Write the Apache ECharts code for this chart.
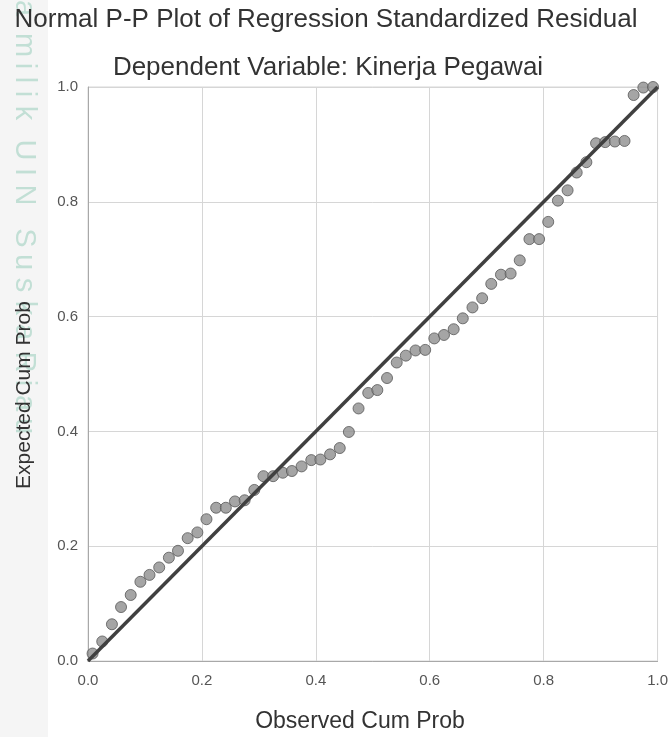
<!DOCTYPE html>
<html>
<head>
<meta charset="utf-8">
<script src="https://cdn.jsdelivr.net/npm/echarts@6/dist/echarts.min.js"></script>
<style>
html,body{margin:0;padding:0;background:#ffffff;}
#chart{width:671px;height:737px;}
</style>
</head>
<body>
<div id="chart"></div>
<script>
var titleText = "Normal P-P Plot of Regression Standardized Residual";
var subtitleText = "Dependent Variable: Kinerja Pegawai";
var xAxisName = "Observed Cum Prob";
var yAxisName = "Expected Cum Prob";
var watermarkText = "amilik UIN Suska Riau";
var tickValues = [0, 0.2, 0.4, 0.6, 0.8, 1.0];

var observedCumProb = [0.008,0.025,0.042,0.058,0.075,0.092,0.108,0.125,0.142,0.158,
  0.175,0.192,0.208,0.225,0.242,0.258,0.275,0.292,0.308,0.325,
  0.342,0.358,0.375,0.392,0.408,0.425,0.442,0.458,0.475,0.492,
  0.508,0.525,0.542,0.558,0.575,0.592,0.608,0.625,0.642,0.658,
  0.675,0.692,0.708,0.725,0.742,0.758,0.775,0.792,0.808,0.825,
  0.842,0.858,0.875,0.892,0.908,0.925,0.942,0.958,0.975,0.992];
var expectedCumProb = [0.013,0.034,0.064,0.094,0.115,0.138,0.150,0.163,0.180,0.192,
  0.214,0.224,0.247,0.267,0.267,0.278,0.280,0.298,0.322,0.322,
  0.328,0.331,0.339,0.350,0.351,0.360,0.371,0.399,0.440,0.467,
  0.472,0.493,0.520,0.532,0.541,0.542,0.562,0.568,0.578,0.597,
  0.616,0.632,0.657,0.673,0.675,0.698,0.735,0.735,0.765,0.802,
  0.820,0.851,0.869,0.902,0.904,0.905,0.906,0.986,0.999,1.000];
var refLineX = [0, 1];
var refLineY = [0, 1];

var scatterData = observedCumProb.map(function(x, i){ return [x, expectedCumProb[i]]; });
var lineData = refLineX.map(function(x, i){ return [x, refLineY[i]]; });

var chart = echarts.init(document.getElementById('chart'), null, {renderer:'canvas'});
var FONT = '"Liberation Sans", Arial, sans-serif';
// vertical centre of each watermark character (spaces skipped)
var wmCharY = [8,45,66,80,94,113, 0, 150,172,195, 0, 238,262,285,308,332, 0, 362,383,403,426];

var graphics = [
  {type:'rect', left:0, top:0, shape:{width:48, height:737}, style:{fill:'#f5f5f5'}, z:-10, silent:true}
];
watermarkText.split('').forEach(function(ch, i){
  if (ch === ' ') return;
  graphics.push({type:'text', x:24, y:wmCharY[i], rotation:-Math.PI/2, z:-5, silent:true,
    style:{text:ch, fill:'#c2dfd5', font:'29px ' + FONT, textAlign:'center', textVerticalAlign:'middle'}});
});
graphics.push(
  {type:'text', x:326, y:20, z:10, style:{text:titleText, fill:'#333333', font:'26px ' + FONT, textAlign:'center', textVerticalAlign:'middle'}},
  {type:'text', x:328, y:68, z:10, style:{text:subtitleText, fill:'#333333', font:'26px ' + FONT, textAlign:'center', textVerticalAlign:'middle'}},
  {type:'text', x:360, y:722, z:10, style:{text:xAxisName, fill:'#333333', font:'23px ' + FONT, textAlign:'center', textVerticalAlign:'middle'}},
  {type:'text', x:24, y:395, rotation:Math.PI/2, z:10, style:{text:yAxisName, fill:'#333333', font:'21px ' + FONT, textAlign:'center', textVerticalAlign:'middle'}}
);

var axisCommon = {
  type:'value', min:0, max:1, interval:0.2,
  axisLine:{show:true, lineStyle:{color:'#a8a8a8', width:1}},
  axisTick:{show:false},
  splitLine:{show:true, lineStyle:{color:'#d6d6d6', width:1}},
  axisLabel:{color:'#555555', fontSize:15, fontFamily:'"Liberation Sans", Arial, sans-serif',
    formatter:function(v){ return v.toFixed(1); }}
};

chart.setOption({
  animation:false,
  backgroundColor:'transparent',
  grid:{left:88, right:12, top:87, bottom:76, containLabel:false, show:true, backgroundColor:'#ffffff', borderColor:'#d6d6d6', borderWidth:1},
  graphic: graphics,
  xAxis: Object.assign({}, axisCommon, {axisLabel:Object.assign({}, axisCommon.axisLabel, {margin:12})}),
  yAxis: Object.assign({}, axisCommon, {axisLabel:Object.assign({}, axisCommon.axisLabel, {margin:10})}),
  series:[
    {type:'scatter', data:scatterData, symbol:'circle', symbolSize:11, clip:false, z:2,
      itemStyle:{color:'#8f8f8f', borderColor:'#585858', borderWidth:1}},
    {type:'line', data:lineData, symbol:'none', z:3,
      lineStyle:{color:'#404040', width:3.5}}
  ]
});
</script>
</body>
</html>
